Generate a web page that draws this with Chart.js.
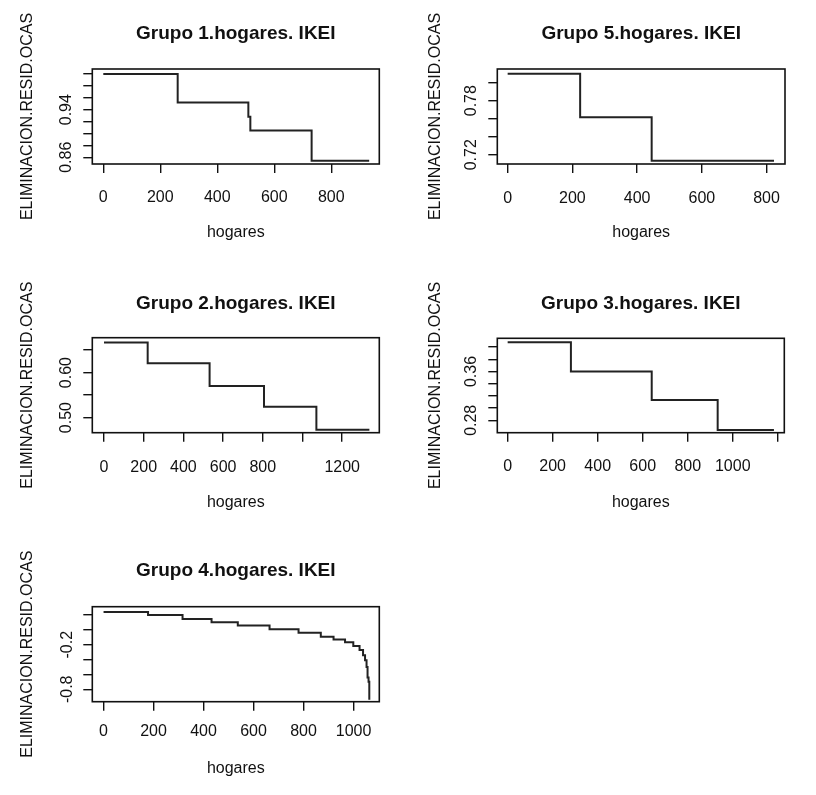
<!DOCTYPE html>
<html>
<head>
<meta charset="utf-8">
<script src="https://cdn.jsdelivr.net/npm/chart.js@4/dist/chart.umd.min.js"></script>
<style>
  body { margin: 0; background: #fff; }
  #wrap { position: relative; width: 816px; height: 795px; overflow: hidden; }
  #wrap div { position: absolute; }
</style>
</head>
<body>
<div id="wrap">
  <div style="left:0px;top:0px"><canvas id="g1" width="408" height="265"></canvas></div>
  <div style="left:410px;top:0px"><canvas id="g5" width="406" height="265"></canvas></div>
  <div style="left:0px;top:270px"><canvas id="g2" width="408" height="258"></canvas></div>
  <div style="left:410px;top:270px"><canvas id="g3" width="406" height="258"></canvas></div>
  <div style="left:0px;top:530px"><canvas id="g4" width="408" height="265"></canvas></div>
</div>
<script>
// Grupo 1
var hogares1 = [0, 261, 509, 516, 731, 933];
var elim1    = [1.0, 0.952, 0.928, 0.905, 0.854, 0.854];
var xTicks1  = [0, 200, 400, 600, 800];
var xLabels1 = ['0', '200', '400', '600', '800'];
var yTicks1  = [0.86, 0.88, 0.90, 0.92, 0.94, 0.96, 0.98, 1.00];
var yLabels1 = ['0.86', '', '', '', '0.94', '', '', ''];

// Grupo 5
var hogares5 = [0, 224, 445, 823];
var elim5    = [0.81, 0.7616, 0.7133, 0.7133];
var xTicks5  = [0, 200, 400, 600, 800];
var xLabels5 = ['0', '200', '400', '600', '800'];
var yTicks5  = [0.72, 0.74, 0.76, 0.78, 0.80];
var yLabels5 = ['0.72', '', '', '0.78', ''];

// Grupo 2
var hogares2 = [0, 220, 532, 806, 1070, 1337];
var elim2    = [0.667, 0.621, 0.570, 0.524, 0.473, 0.473];
var xTicks2  = [0, 200, 400, 600, 800, 1000, 1200];
var xLabels2 = ['0', '200', '400', '600', '800', '', '1200'];
var yTicks2  = [0.50, 0.55, 0.60, 0.65];
var yLabels2 = ['0.50', '', '0.60', ''];

// Grupo 3
var hogares3 = [0, 281, 640, 933, 1183];
var elim3    = [0.408, 0.36, 0.3134, 0.264, 0.264];
var xTicks3  = [0, 200, 400, 600, 800, 1000, 1200];
var xLabels3 = ['0', '200', '400', '600', '800', '1000', ''];
var yTicks3  = [0.28, 0.30, 0.32, 0.34, 0.36, 0.38, 0.40];
var yLabels3 = ['0.28', '', '', '', '0.36', '', ''];

// Grupo 4
var hogares4 = [0, 178, 316, 432, 537, 664, 780, 869, 920, 966, 999, 1024, 1038, 1046, 1052, 1056, 1060, 1063];
var elim4    = [0.24, 0.20, 0.146, 0.102, 0.06, 0.01, -0.038, -0.092, -0.13, -0.167, -0.217, -0.271, -0.34, -0.41, -0.5, -0.64, -0.70, -0.94];
var xTicks4  = [0, 200, 400, 600, 800, 1000];
var xLabels4 = ['0', '200', '400', '600', '800', '1000'];
var yTicks4  = [-0.8, -0.6, -0.4, -0.2, 0.0, 0.2];
var yLabels4 = ['-0.8', '', '', '-0.2', '', ''];

var fam = "'Liberation Sans', Arial, sans-serif";
var ink = '#111';

// frame round the plot region, like R's box()
var boxPlugin = {
  id: 'box',
  afterDatasetsDraw: function(chart) {
    var a = chart.chartArea, ctx = chart.ctx;
    ctx.save();
    ctx.strokeStyle = ink;
    ctx.lineWidth = 1.6;
    ctx.strokeRect(a.left, a.top, a.right - a.left, a.bottom - a.top);
    ctx.restore();
  }
};

// p: layout of one panel (canvas px)
function panel(id, titulo, xs, ys, xTicks, xLabels, yTicks, yLabels, xMin, xMax, yMin, yMax, p) {
  var tl = 9;
  new Chart(document.getElementById(id), {
    type: 'line',
    data: {
      datasets: [{
        data: xs.map(function(x, i) { return {x: x, y: ys[i]}; }),
        borderColor: '#222',
        borderWidth: 2,
        pointRadius: 0,
        stepped: true,
        fill: false
      }]
    },
    options: {
      responsive: false,
      animation: false,
      layout: { padding: { left: 0, top: 0, right: p.W - p.R, bottom: 0 } },
      plugins: {
        legend: { display: false },
        tooltip: { enabled: false },
        title: {
          display: true,
          text: titulo,
          fullSize: false,
          color: ink,
          font: { family: fam, size: 19, weight: 'bold', lineHeight: 1.2 },
          padding: { top: p.titleY - 11.4, bottom: p.T - 22.8 - (p.titleY - 11.4) }
        }
      },
      scales: {
        x: {
          type: 'linear',
          min: xMin, max: xMax,
          afterBuildTicks: function(s) { s.ticks = xTicks.map(function(v) { return {value: v}; }); },
          afterFit: function(s) { s.height = p.H - p.B; },
          border: { display: false },
          grid: { drawOnChartArea: false, drawTicks: true, tickLength: tl, color: ink, lineWidth: 1.4 },
          ticks: {
            autoSkip: false, maxRotation: 0,
            color: ink,
            font: { family: fam, size: 16 },
            padding: p.tickY - p.B - tl - 9.6,
            callback: function(v, i) { return xLabels[i]; }
          },
          title: {
            display: true, text: 'hogares', color: ink,
            font: { family: fam, size: 16 },
            padding: { top: 0, bottom: p.H - p.xTitleY - 9.6 }
          }
        },
        y: {
          type: 'linear',
          min: yMin, max: yMax,
          afterBuildTicks: function(s) { s.ticks = yTicks.map(function(v) { return {value: v}; }); },
          afterFit: function(s) { s.width = p.L; },
          border: { display: false },
          grid: { drawOnChartArea: false, drawTicks: true, tickLength: tl, color: ink, lineWidth: 1.4 },
          ticks: {
            autoSkip: false, minRotation: 90, maxRotation: 90,
            crossAlign: 'center',
            color: ink,
            font: { family: fam, size: 16 },
            padding: 1.5,
            callback: function(v, i) { return yLabels[i]; }
          },
          title: {
            display: true, text: 'ELIMINACION.RESID.OCAS', color: ink,
            font: { family: fam, size: 16 },
            padding: { top: p.yTitleX - 9.6, bottom: 0 }
          }
        }
      }
    },
    plugins: [boxPlugin]
  });
}

panel('g1', 'Grupo 1.hogares. IKEI', hogares1, elim1, xTicks1, xLabels1, yTicks1, yLabels1,
  -38.6, 968.5, 0.8487, 1.0084,
  {W: 408, H: 265, L: 92.3, R: 379.3, T: 69, B: 164, titleY: 34, tickY: 198, xTitleY: 233, yTitleX: 28});

panel('g5', 'Grupo 5.hogares. IKEI', hogares5, elim5, xTicks5, xLabels5, yTicks5, yLabels5,
  -32, 857, 0.7097, 0.8152,
  {W: 406, H: 265, L: 87.3, R: 375, T: 69, B: 164, titleY: 34, tickY: 199, xTitleY: 233, yTitleX: 26});

panel('g2', 'Grupo 2.hogares. IKEI', hogares2, elim2, xTicks2, xLabels2, yTicks2, yLabels2,
  -59, 1387, 0.4664, 0.6776,
  {W: 408, H: 258, L: 92.3, R: 379.3, T: 67.7, B: 162.7, titleY: 34, tickY: 198, xTitleY: 233, yTitleX: 28});

panel('g3', 'Grupo 3.hogares. IKEI', hogares3, elim3, xTicks3, xLabels3, yTicks3, yLabels3,
  -46, 1229, 0.2597, 0.4143,
  {W: 406, H: 258, L: 87.3, R: 374.3, T: 68.3, B: 162.7, titleY: 34, tickY: 197, xTitleY: 233, yTitleX: 26});

panel('g4', 'Grupo 4.hogares. IKEI', hogares4, elim4, xTicks4, xLabels4, yTicks4, yLabels4,
  -45, 1103, -0.967, 0.312,
  {W: 408, H: 265, L: 92.3, R: 379.3, T: 76.7, B: 171.7, titleY: 41, tickY: 202, xTitleY: 239, yTitleX: 28});
</script>
</body>
</html>
